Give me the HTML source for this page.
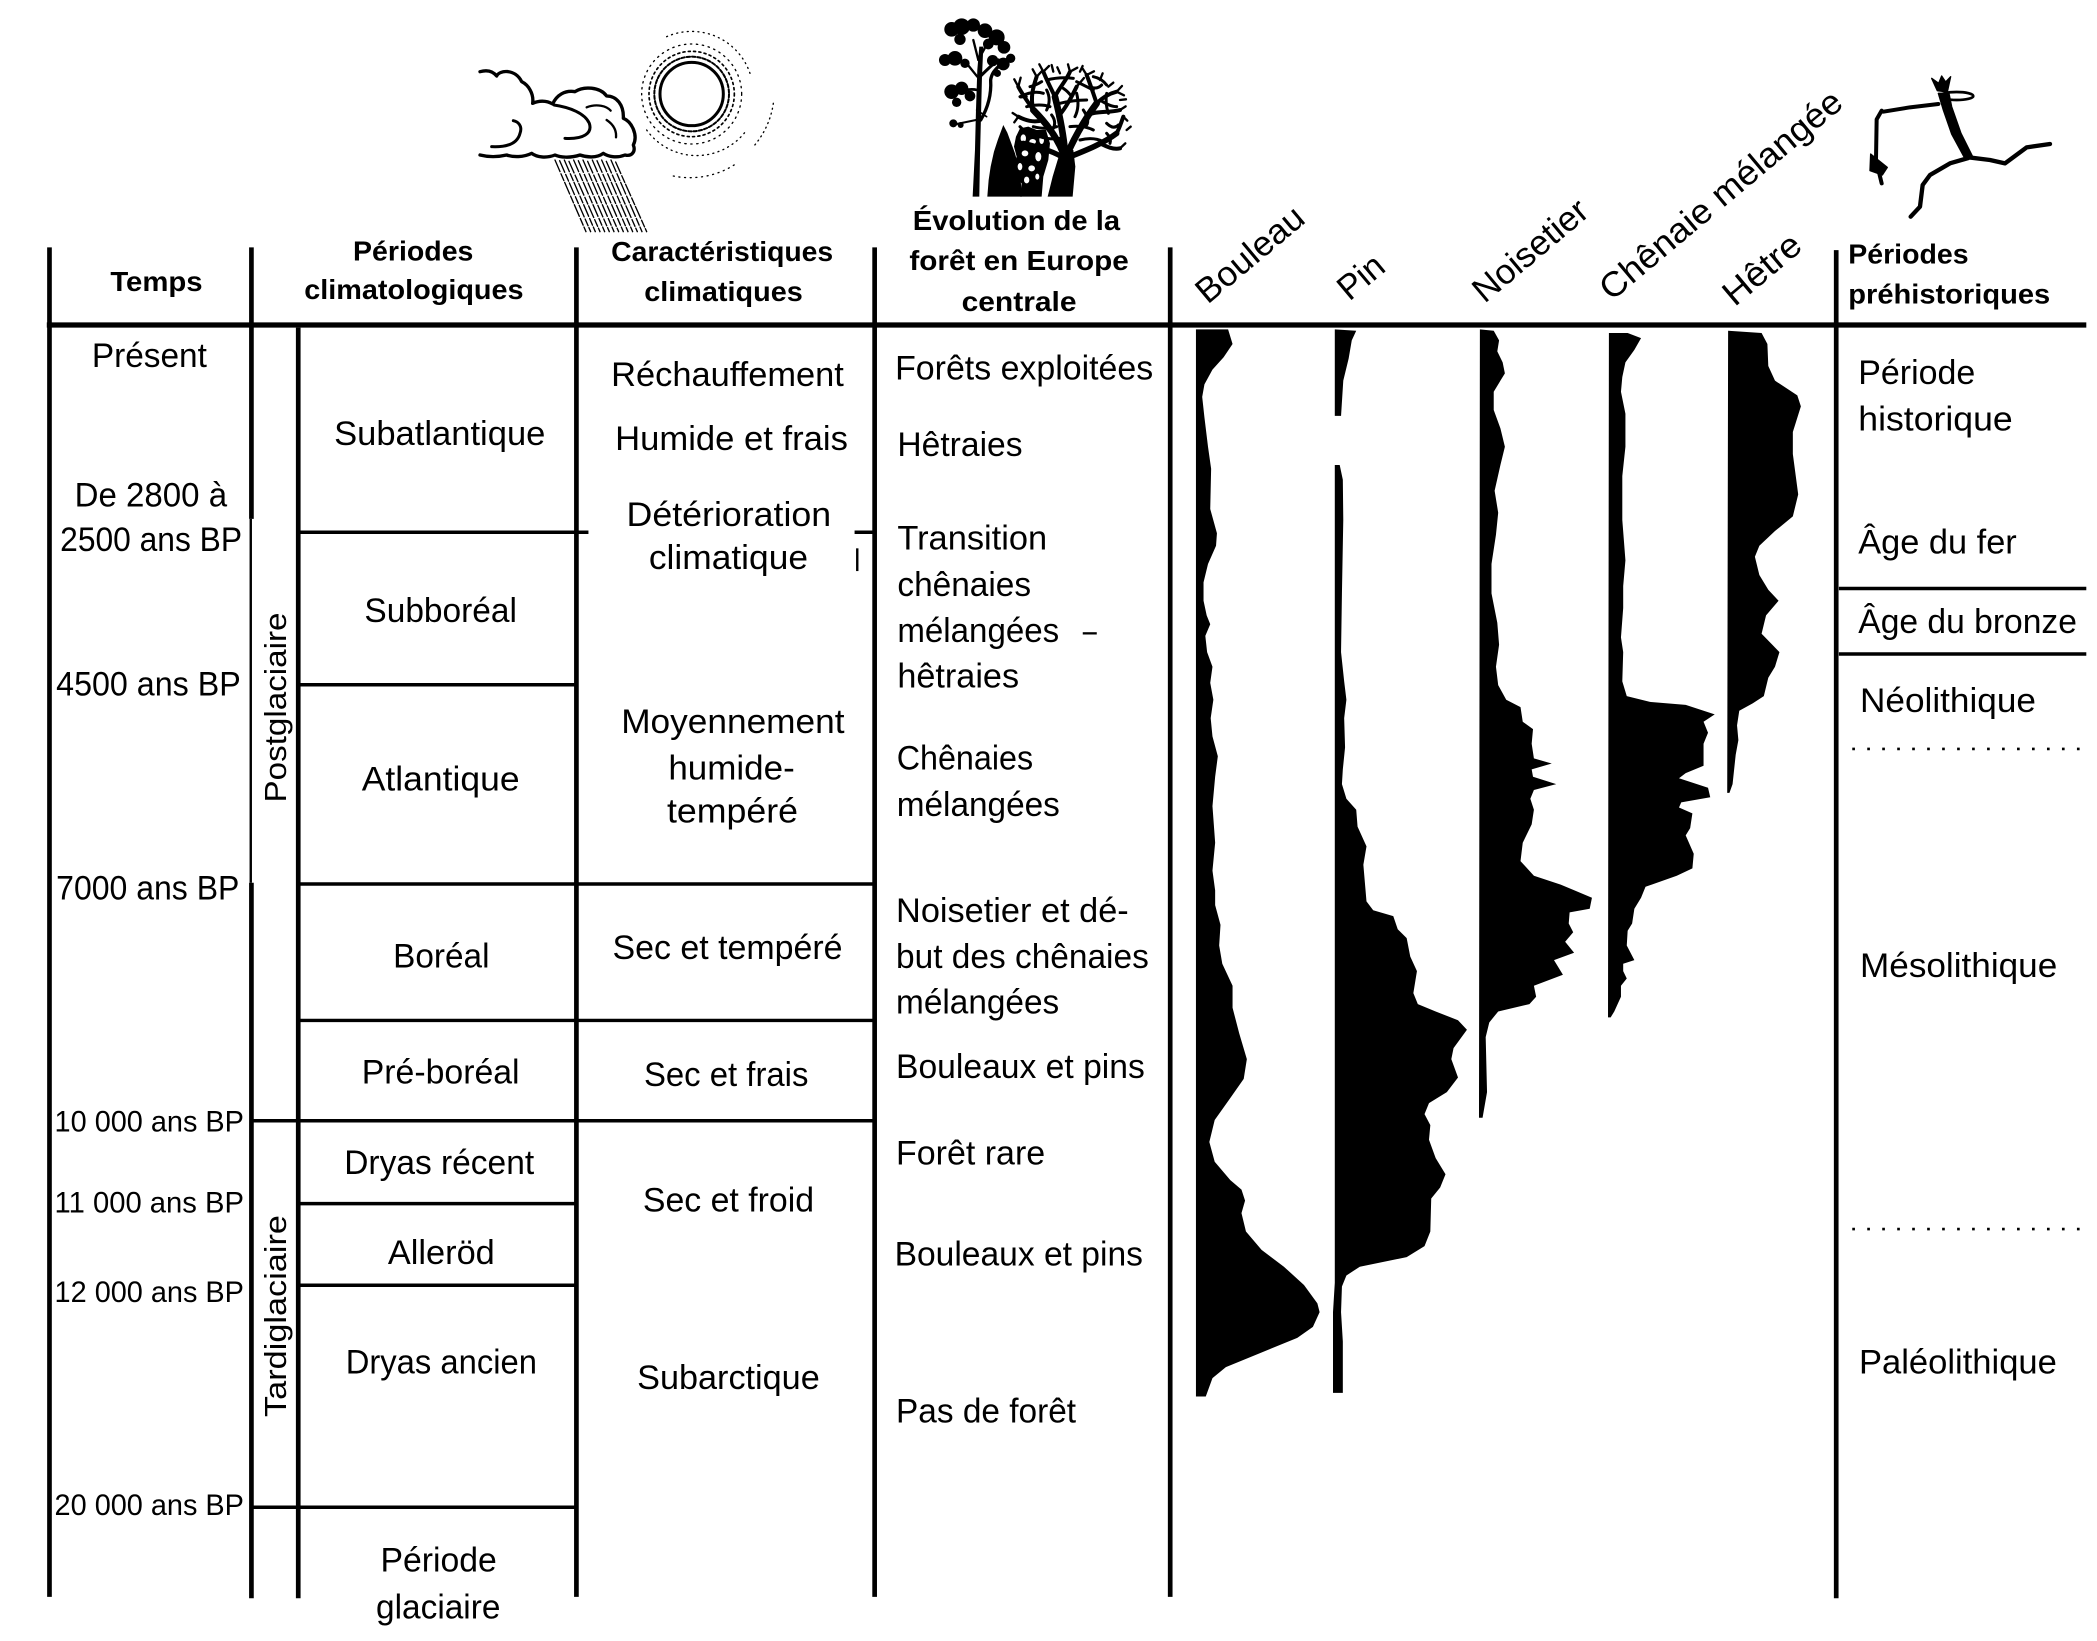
<!DOCTYPE html>
<html>
<head>
<meta charset="utf-8">
<style>
  html,body{margin:0;padding:0;background:#fff;}
  svg{display:block;}
  text{font-family:"Liberation Sans",Arial,sans-serif;fill:#000;}
  .b{font-size:25.5px;}
  .t{font-size:22px;}
  .h{font-size:20.5px;font-weight:bold;}
  .r{font-size:26px;}
  .v{font-size:23px;}
</style>
</head>
<body>
<svg width="2097" height="1641" viewBox="0 0 1568 1227" preserveAspectRatio="none" xmlns="http://www.w3.org/2000/svg">
<rect x="0" y="0" width="1568" height="1227" fill="#fff"/>

<!-- ===== Cloud + rain + sun ===== -->
<g transform="translate(343.95,14.955) scale(0.24925)" fill="none" stroke="#000" stroke-linecap="round" stroke-linejoin="round">
  <g stroke-width="4" stroke-dasharray="38 7 22 6">
    <line x1="285" y1="420" x2="378" y2="635"/>
    <line x1="299" y1="422" x2="392" y2="635"/>
    <line x1="313" y1="420" x2="406" y2="635"/>
    <line x1="327" y1="424" x2="420" y2="635"/>
    <line x1="341" y1="420" x2="434" y2="635"/>
    <line x1="355" y1="422" x2="448" y2="635"/>
    <line x1="369" y1="420" x2="462" y2="635"/>
    <line x1="383" y1="424" x2="476" y2="635"/>
    <line x1="397" y1="420" x2="490" y2="635"/>
    <line x1="411" y1="422" x2="504" y2="635"/>
    <line x1="425" y1="420" x2="518" y2="635"/>
    <line x1="439" y1="424" x2="532" y2="635"/>
    <line x1="453" y1="420" x2="546" y2="635"/>
    <line x1="467" y1="426" x2="560" y2="635"/>
  </g>
  <path d="M60,155 C85,148 100,155 110,168 C118,150 165,145 185,185 C205,195 222,220 218,250 C235,242 258,240 278,252 C290,225 315,210 345,215 C370,198 420,200 440,228 C470,228 492,255 490,295 C515,305 535,345 520,375 C528,395 515,410 495,405 C470,415 445,410 430,400 C410,415 380,412 360,405 C330,415 300,412 285,405 C260,415 230,412 215,400 C190,412 160,412 140,405 C110,412 80,410 60,405" fill="#fff" stroke-width="10"/>
  <path d="M95,380 C140,382 172,372 180,340 C188,318 175,305 160,302" stroke-width="9"/>
  <path d="M282,255 C330,262 375,280 388,310 C398,340 370,358 315,355" stroke-width="9"/>
  <path d="M380,262 C410,250 440,258 452,272" stroke-width="7"/>
  <path d="M440,300 C458,312 470,330 468,352" stroke-width="7"/>
  <circle cx="695" cy="222" r="95" stroke-width="9"/>
  <circle cx="695" cy="222" r="112" stroke-width="6" stroke-dasharray="10 6"/>
  <circle cx="695" cy="222" r="128" stroke-width="5" stroke-dasharray="6 10"/>
  <circle cx="695" cy="222" r="150" stroke-width="4" stroke-dasharray="4 14"/>
  <path d="M620,50 A185,185 0 0 1 870,160" stroke-width="4" stroke-dasharray="3 13"/>
  <path d="M560,330 A185,185 0 0 0 860,330" stroke-width="4" stroke-dasharray="3 13"/>
  <path d="M940,250 A250,250 0 0 1 880,380" stroke-width="4" stroke-dasharray="3 12"/>
  <path d="M640,468 A250,250 0 0 0 830,430" stroke-width="4" stroke-dasharray="3 14"/>
</g>

<!-- ===== Trees ===== -->
<g transform="translate(687.9,7.477) scale(0.24925)" fill="#000" stroke-linecap="round" stroke-linejoin="round">
  <!-- left tall tree -->
  <path d="M158,560 L165,420 L168,300 L172,180 L178,110 L190,110 L186,200 L183,320 L180,440 L178,560 Z"/>
  <g fill="none" stroke="#000">
    <path d="M182,330 C200,300 215,260 212,210 C215,190 225,180 235,170" stroke-width="10"/>
    <path d="M180,200 C200,180 215,165 235,150" stroke-width="9"/>
    <path d="M172,240 C150,235 130,240 110,250" stroke-width="8"/>
    <path d="M172,200 L140,160" stroke-width="7"/>
    <path d="M175,150 L160,90" stroke-width="7"/>
    <path d="M175,150 L205,95" stroke-width="7"/>
    <path d="M168,330 L110,342" stroke-width="6"/>
    <path d="M170,300 L200,320" stroke-width="5"/>
  </g>
  <circle cx="95" cy="58" r="22"/>
  <circle cx="125" cy="50" r="25"/>
  <circle cx="160" cy="45" r="20"/>
  <circle cx="195" cy="62" r="22"/>
  <circle cx="230" cy="82" r="24"/>
  <circle cx="252" cy="112" r="19"/>
  <circle cx="120" cy="88" r="17"/>
  <circle cx="205" cy="102" r="16"/>
  <circle cx="75" cy="150" r="18"/>
  <circle cx="105" cy="145" r="22"/>
  <circle cx="135" cy="160" r="14"/>
  <circle cx="218" cy="152" r="17"/>
  <circle cx="250" cy="162" r="19"/>
  <circle cx="272" cy="145" r="14"/>
  <circle cx="232" cy="190" r="11"/>
  <circle cx="95" cy="245" r="22"/>
  <circle cx="125" cy="235" r="20"/>
  <circle cx="150" cy="258" r="16"/>
  <circle cx="110" cy="277" r="14"/>
  <circle cx="100" cy="340" r="12"/>
  <circle cx="122" cy="345" r="9"/>
  <!-- conifer -->
  <path d="M250,345 L262,368 L272,395 L285,430 L296,470 L302,510 L306,560 L202,560 L206,510 L212,470 L222,425 L234,388 Z"/>
  <!-- middle tree (dark mass with small gaps) -->
  <path d="M300,560 L305,520 L285,500 L282,470 L290,440 L282,410 L288,380 L300,355 L325,350 L350,360 L378,360 L390,400 L385,450 L370,500 L365,560 Z"/>
  <g fill="#fff">
    <ellipse cx="310" cy="385" rx="8" ry="12"/>
    <ellipse cx="338" cy="395" rx="10" ry="8"/>
    <ellipse cx="365" cy="390" rx="7" ry="12"/>
    <ellipse cx="315" cy="430" rx="10" ry="9"/>
    <ellipse cx="355" cy="440" rx="9" ry="14"/>
    <ellipse cx="300" cy="470" rx="7" ry="11"/>
    <ellipse cx="335" cy="475" rx="10" ry="9"/>
    <ellipse cx="320" cy="510" rx="8" ry="10"/>
    <ellipse cx="352" cy="500" rx="6" ry="9"/>
  </g>
  <!-- right tree -->
  <path d="M383,560 L398,500 L413,450 L423,420 L460,420 L466,470 L458,560 Z"/>
  <g fill="none" stroke="#000">
    <path d="M430,430 C410,380 380,340 340,300" stroke-width="20"/>
    <path d="M435,425 C430,370 420,320 405,260" stroke-width="20"/>
    <path d="M445,425 C470,370 500,320 530,280" stroke-width="20"/>
    <path d="M450,440 C500,420 550,400 590,370" stroke-width="17"/>
    <path d="M425,440 C390,420 350,410 310,400" stroke-width="16"/>
    <g stroke-width="12">
      <path d="M340,300 C320,270 305,250 295,230"/>
      <path d="M340,300 C330,260 340,230 350,200"/>
      <path d="M370,330 C340,340 315,330 295,320"/>
      <path d="M405,260 C390,230 380,210 370,185"/>
      <path d="M405,260 C420,230 440,210 450,185"/>
      <path d="M415,320 C440,290 455,260 470,230"/>
      <path d="M530,280 C520,250 510,220 500,195"/>
      <path d="M530,280 C550,260 570,250 590,245"/>
      <path d="M500,320 C520,300 560,310 600,300"/>
      <path d="M590,370 C600,350 605,335 610,320"/>
      <path d="M540,400 C560,410 580,420 600,415"/>
    </g>
    <g stroke-width="7">
      <path d="M295,230 L283,208"/><path d="M295,230 L302,203"/>
      <path d="M350,200 L338,178"/><path d="M350,200 L366,183"/>
      <path d="M370,185 L358,163"/><path d="M370,185 L387,168"/>
      <path d="M450,185 L444,163"/><path d="M450,185 L472,173"/>
      <path d="M470,230 L492,204"/><path d="M500,195 L488,176"/>
      <path d="M500,195 L522,184"/><path d="M590,245 L606,228"/>
      <path d="M590,245 L612,256"/><path d="M600,300 L617,289"/>
      <path d="M610,320 L622,332"/><path d="M600,415 L616,400"/>
      <path d="M295,320 L278,309"/><path d="M295,320 L283,337"/>
      <path d="M310,400 L293,389"/><path d="M310,400 L298,421"/>
      <path d="M420,190 L412,172"/><path d="M540,210 L548,190"/>
      <path d="M565,230 L580,218"/><path d="M320,260 L302,262"/>
      <path d="M400,185 L395,165"/><path d="M480,185 L488,168"/>
      <path d="M620,360 L632,350"/><path d="M600,270 L618,268"/>
    </g>
    <g stroke-width="9">
      <path d="M300,260 Q340,240 370,250"/>
      <path d="M380,210 Q420,200 460,205"/>
      <path d="M470,215 Q500,230 520,240"/>
      <path d="M320,290 Q360,280 390,290"/>
      <path d="M420,280 Q460,270 500,270"/>
      <path d="M540,270 Q570,290 590,290"/>
      <path d="M340,350 Q380,360 410,350"/>
      <path d="M450,350 Q490,345 520,360"/>
      <path d="M560,340 Q580,360 595,345"/>
      <path d="M360,380 Q390,390 420,385"/>
      <path d="M480,390 Q520,380 550,395"/>
      <path d="M300,350 Q320,370 340,380"/>
      <path d="M380,240 Q395,270 380,300"/>
      <path d="M470,250 Q480,290 465,320"/>
      <path d="M560,250 Q555,280 565,310"/>
      <path d="M510,230 Q530,240 545,225"/>
      <path d="M330,230 Q350,225 365,215"/>
      <path d="M430,235 Q445,245 455,260"/>
      <path d="M490,300 Q510,330 500,345"/>
      <path d="M560,370 Q575,385 570,400"/>
      <path d="M395,315 Q410,335 400,355"/>
      <path d="M520,200 Q545,205 560,225"/>
    </g>
  </g>
</g>

<!-- ===== Prehistoric figure ===== -->
<g transform="translate(1383.3,44.86) scale(0.24925)" stroke="#000" fill="none" stroke-linecap="round" stroke-linejoin="round">
  <path d="M245,55 L262,92 L292,96 L302,50 L287,66 L275,48 L266,70 Z" fill="#000" stroke-width="4"/>
  <ellipse cx="320" cy="108" rx="50" ry="12" stroke-width="8"/>
  <path d="M265,100 L297,100 L305,140 L333,220 L368,290 L345,296 L305,222 L280,150 Z" fill="#000" stroke-width="4"/>
  <path d="M265,132 L180,142 L100,155" stroke-width="12"/>
  <path d="M95,152 L80,178 L78,300 L95,370" stroke-width="12"/>
  <path d="M62,282 L112,322 L97,345 L60,332 Z" fill="#000" stroke-width="4"/>
  <path d="M355,292 L420,300 L465,310 L530,262 L600,252" stroke-width="13"/>
  <path d="M355,294 L300,310 L240,345 L218,375 L210,440 L182,470" stroke-width="13"/>
</g>

<!-- ===== Grid lines ===== -->
<g stroke="#000" fill="none">
  <g stroke-width="3.5">
    <path d="M37,185 V1194"/>
    <path d="M188,185 V388"/>
    <path d="M188,660 V1195"/>
    <path d="M223,245 V1195"/>
    <path d="M431,185 V1194"/>
    <path d="M654,185 V1194"/>
    <path d="M875,185 V1194"/>
    <path d="M1373,187 V1195"/>
  </g>
  <path d="M187.5,388 V660" stroke-width="1.8"/>
  <path d="M35,243 H1560" stroke-width="4"/>
  <g stroke-width="2.6">
    <path d="M223,398 H440"/>
    <path d="M639,398 H654"/>
    <path d="M223,512 H431"/>
    <path d="M223,661 H654"/>
    <path d="M223,763 H654"/>
    <path d="M188,838 H654"/>
    <path d="M223,900 H431"/>
    <path d="M223,961 H431"/>
    <path d="M188,1127 H431"/>
    <path d="M1375,440 H1560"/>
    <path d="M1375,489 H1560"/>
  </g>
  <path d="M641,410 V427" stroke-width="1.8"/>
  <path d="M1385,560 H1556" stroke-width="2" stroke-dasharray="2 9.2"/>
  <path d="M1385,919 H1556" stroke-width="2" stroke-dasharray="2 9.2"/>
</g>

<!-- ===== Pollen curves ===== -->
<g transform="translate(859.87,224.32) scale(0.33382,0.54841)" fill="#000">
  <path d="M103,40 L175,40 L185,60 L165,78 L140,95 L122,115 L117,132 L122,160 L130,200 L137,230 L135,285 L150,318 L148,335 L130,360 L120,385 L120,410 L127,430 L135,442 L124,458 L128,480 L140,500 L135,522 L142,545 L136,570 L140,595 L152,622 L146,650 L140,690 L146,740 L140,778 L146,805 L146,825 L158,852 L155,880 L162,905 L185,935 L185,965 L200,1000 L217,1035 L210,1062 L180,1088 L145,1118 L133,1148 L145,1175 L180,1200 L205,1213 L213,1228 L205,1245 L215,1270 L250,1295 L300,1318 L345,1343 L375,1368 L380,1380 L365,1400 L330,1415 L250,1435 L170,1455 L140,1470 L125,1495 L103,1495 Z"/>
  <path d="M414,40 L462,42 L452,55 L445,80 L433,110 L428,158 L414,158 Z"/>
  <path d="M414,225 L425,225 L432,245 L433,300 L430,400 L428,480 L435,520 L440,545 L435,570 L437,610 L432,640 L430,660 L440,680 L462,695 L465,718 L485,745 L478,770 L485,820 L500,832 L545,840 L555,858 L575,870 L583,895 L598,915 L590,945 L600,960 L640,970 L690,982 L710,995 L680,1020 L675,1035 L690,1060 L665,1080 L625,1095 L615,1110 L628,1125 L625,1145 L640,1170 L662,1192 L650,1210 L630,1225 L628,1270 L615,1290 L575,1305 L470,1318 L440,1330 L430,1345 L428,1380 L432,1420 L432,1490 L410,1490 L410,1380 L414,1340 Z"/>
  <path d="M739,40 L770,42 L782,55 L778,70 L790,85 L795,100 L785,110 L770,125 L770,150 L785,175 L795,200 L785,225 L772,260 L780,290 L775,320 L765,360 L765,400 L778,440 L782,470 L775,500 L780,525 L798,545 L830,555 L835,575 L858,585 L855,605 L860,625 L900,632 L855,640 L858,650 L910,660 L860,668 L852,680 L860,695 L855,715 L835,740 L830,765 L860,785 L920,797 L990,815 L985,830 L940,835 L938,850 L948,862 L930,875 L950,890 L905,900 L925,920 L860,935 L865,950 L850,960 L780,970 L760,985 L752,1005 L755,1080 L745,1115 L737,1115 Z"/>
  <path d="M1028,45 L1070,45 L1100,52 L1085,68 L1065,85 L1058,105 L1055,125 L1065,155 L1065,200 L1058,240 L1058,300 L1065,355 L1060,390 L1060,420 L1055,460 L1060,480 L1058,520 L1068,540 L1120,548 L1200,552 L1265,565 L1240,575 L1250,590 L1240,605 L1240,635 L1200,645 L1185,652 L1250,665 L1255,678 L1190,685 L1185,692 L1215,700 L1210,720 L1200,730 L1218,755 L1215,775 L1180,785 L1110,800 L1100,815 L1085,830 L1080,850 L1070,860 L1068,880 L1085,900 L1060,905 L1060,915 L1068,925 L1055,935 L1055,950 L1040,970 L1032,978 L1026,978 Z"/>
  <path d="M1295,42 L1370,45 L1383,60 L1385,90 L1400,110 L1450,130 L1458,145 L1440,180 L1440,210 L1452,265 L1440,295 L1400,315 L1365,335 L1355,350 L1365,375 L1385,395 L1408,410 L1380,430 L1370,455 L1410,480 L1400,500 L1385,515 L1375,540 L1350,550 L1320,560 L1315,580 L1318,600 L1312,620 L1305,660 L1298,672 L1293,672 Z"/>
</g>

<!-- ===== Header text ===== -->
<text class="h" x="117" y="217.6" text-anchor="middle" textLength="69" lengthAdjust="spacingAndGlyphs">Temps</text>
<text class="h" x="309" y="194.6" text-anchor="middle" textLength="90" lengthAdjust="spacingAndGlyphs">Périodes</text>
<text class="h" x="309.5" y="223.6" text-anchor="middle" textLength="164" lengthAdjust="spacingAndGlyphs">climatologiques</text>
<text class="h" x="540" y="195" text-anchor="middle" textLength="166" lengthAdjust="spacingAndGlyphs">Caractéristiques</text>
<text class="h" x="541" y="225" text-anchor="middle" textLength="118.5" lengthAdjust="spacingAndGlyphs">climatiques</text>
<text class="h" x="760" y="172" text-anchor="middle" textLength="155" lengthAdjust="spacingAndGlyphs">Évolution de la</text>
<text class="h" x="762" y="202" text-anchor="middle" textLength="164" lengthAdjust="spacingAndGlyphs">forêt en Europe</text>
<text class="h" x="762" y="232.7" text-anchor="middle" textLength="86" lengthAdjust="spacingAndGlyphs">centrale</text>
<text class="h" x="1382" y="197" textLength="90" lengthAdjust="spacingAndGlyphs">Périodes</text>
<text class="h" x="1382" y="227" textLength="151" lengthAdjust="spacingAndGlyphs">préhistoriques</text>

<text class="r" transform="translate(903,228) rotate(-40)" textLength="97" lengthAdjust="spacingAndGlyphs">Bouleau</text>
<text class="r" transform="translate(1009,225.6) rotate(-40)" textLength="37" lengthAdjust="spacingAndGlyphs">Pin</text>
<text class="r" transform="translate(1110,227.3) rotate(-40)" textLength="104" lengthAdjust="spacingAndGlyphs">Noisetier</text>
<text class="r" transform="translate(1205,225.6) rotate(-40)" textLength="228" lengthAdjust="spacingAndGlyphs">Chênaie mélangée</text>
<text class="r" transform="translate(1297,229.8) rotate(-40)" textLength="68" lengthAdjust="spacingAndGlyphs">Hêtre</text>

<!-- ===== Temps column ===== -->
<text class="b" x="68.7" y="274.6" textLength="86" lengthAdjust="spacingAndGlyphs">Présent</text>
<text class="b" x="55.8" y="378.6" textLength="114" lengthAdjust="spacingAndGlyphs">De 2800 à</text>
<text class="b" x="45" y="412" textLength="136" lengthAdjust="spacingAndGlyphs">2500 ans BP</text>
<text class="b" x="42" y="520" textLength="138" lengthAdjust="spacingAndGlyphs">4500 ans BP</text>
<text class="b" x="42" y="672.6" textLength="137" lengthAdjust="spacingAndGlyphs">7000 ans BP</text>
<text class="t" x="40.8" y="846" textLength="141.6" lengthAdjust="spacingAndGlyphs">10 000 ans BP</text>
<text class="t" x="40.8" y="906.5" textLength="141.6" lengthAdjust="spacingAndGlyphs">11 000 ans BP</text>
<text class="t" x="40.8" y="973.6" textLength="141.6" lengthAdjust="spacingAndGlyphs">12 000 ans BP</text>
<text class="t" x="40.8" y="1132.7" textLength="141.6" lengthAdjust="spacingAndGlyphs">20 000 ans BP</text>

<text class="v" transform="translate(214,529) rotate(-90)" text-anchor="middle" textLength="142" lengthAdjust="spacingAndGlyphs">Postglaciaire</text>
<text class="v" transform="translate(214,984) rotate(-90)" text-anchor="middle" textLength="151" lengthAdjust="spacingAndGlyphs">Tardiglaciaire</text>

<!-- ===== Periods column ===== -->
<text class="b" x="328.8" y="332.7" text-anchor="middle" textLength="158" lengthAdjust="spacingAndGlyphs">Subatlantique</text>
<text class="b" x="329.5" y="465" text-anchor="middle" textLength="114" lengthAdjust="spacingAndGlyphs">Subboréal</text>
<text class="b" x="329.5" y="591" text-anchor="middle" textLength="118" lengthAdjust="spacingAndGlyphs">Atlantique</text>
<text class="b" x="330" y="723.6" text-anchor="middle" textLength="72" lengthAdjust="spacingAndGlyphs">Boréal</text>
<text class="b" x="329.5" y="810" text-anchor="middle" textLength="118" lengthAdjust="spacingAndGlyphs">Pré-boréal</text>
<text class="b" x="328.4" y="878" text-anchor="middle" textLength="142" lengthAdjust="spacingAndGlyphs">Dryas récent</text>
<text class="b" x="330" y="945" text-anchor="middle" textLength="80" lengthAdjust="spacingAndGlyphs">Alleröd</text>
<text class="b" x="330" y="1027" text-anchor="middle" textLength="143" lengthAdjust="spacingAndGlyphs">Dryas ancien</text>
<text class="b" x="328" y="1175" text-anchor="middle" textLength="87" lengthAdjust="spacingAndGlyphs">Période</text>
<text class="b" x="327.7" y="1210" text-anchor="middle" textLength="93" lengthAdjust="spacingAndGlyphs">glaciaire</text>

<!-- ===== Caractéristiques column ===== -->
<text class="b" x="544" y="288.6" text-anchor="middle" textLength="174" lengthAdjust="spacingAndGlyphs">Réchauffement</text>
<text class="b" x="547" y="336.5" text-anchor="middle" textLength="174" lengthAdjust="spacingAndGlyphs">Humide et frais</text>
<text class="b" x="545" y="393.4" text-anchor="middle" textLength="153" lengthAdjust="spacingAndGlyphs">Détérioration</text>
<text class="b" x="544.7" y="425.6" text-anchor="middle" textLength="119" lengthAdjust="spacingAndGlyphs">climatique</text>
<text class="b" x="548" y="548" text-anchor="middle" textLength="167" lengthAdjust="spacingAndGlyphs">Moyennement</text>
<text class="b" x="547" y="583" text-anchor="middle" textLength="94.5" lengthAdjust="spacingAndGlyphs">humide-</text>
<text class="b" x="547.7" y="615" text-anchor="middle" textLength="98" lengthAdjust="spacingAndGlyphs">tempéré</text>
<text class="b" x="544" y="717" text-anchor="middle" textLength="172" lengthAdjust="spacingAndGlyphs">Sec et tempéré</text>
<text class="b" x="543" y="812" text-anchor="middle" textLength="123" lengthAdjust="spacingAndGlyphs">Sec et frais</text>
<text class="b" x="544.7" y="906" text-anchor="middle" textLength="128" lengthAdjust="spacingAndGlyphs">Sec et froid</text>
<text class="b" x="544.7" y="1038.6" text-anchor="middle" textLength="136.5" lengthAdjust="spacingAndGlyphs">Subarctique</text>

<!-- ===== Forest column ===== -->
<text class="b" x="669.3" y="283.7" textLength="193" lengthAdjust="spacingAndGlyphs">Forêts exploitées</text>
<text class="b" x="671" y="341" textLength="93.6" lengthAdjust="spacingAndGlyphs">Hêtraies</text>
<text class="b" x="671" y="411" textLength="112" lengthAdjust="spacingAndGlyphs">Transition</text>
<text class="b" x="671" y="445.6" textLength="100" lengthAdjust="spacingAndGlyphs">chênaies</text>
<text class="b" x="671" y="480" textLength="121" lengthAdjust="spacingAndGlyphs">mélangées</text>
<text class="b" x="809.6" y="480" textLength="10.5" lengthAdjust="spacingAndGlyphs">–</text>
<text class="b" x="671" y="514" textLength="91" lengthAdjust="spacingAndGlyphs">hêtraies</text>
<text class="b" x="670.5" y="575.4" textLength="102" lengthAdjust="spacingAndGlyphs">Chênaies</text>
<text class="b" x="670.5" y="610" textLength="122" lengthAdjust="spacingAndGlyphs">mélangées</text>
<text class="b" x="670" y="689.4" textLength="174" lengthAdjust="spacingAndGlyphs">Noisetier et dé-</text>
<text class="b" x="670" y="723.8" textLength="189" lengthAdjust="spacingAndGlyphs">but des chênaies</text>
<text class="b" x="670" y="758" textLength="122" lengthAdjust="spacingAndGlyphs">mélangées</text>
<text class="b" x="670" y="806" textLength="186" lengthAdjust="spacingAndGlyphs">Bouleaux et pins</text>
<text class="b" x="670" y="870.7" textLength="111.5" lengthAdjust="spacingAndGlyphs">Forêt rare</text>
<text class="b" x="668.9" y="946.2" textLength="185.7" lengthAdjust="spacingAndGlyphs">Bouleaux et pins</text>
<text class="b" x="670" y="1063.6" textLength="134.6" lengthAdjust="spacingAndGlyphs">Pas de forêt</text>

<!-- ===== Prehistoric periods column ===== -->
<text class="b" x="1389.5" y="287" textLength="87.5" lengthAdjust="spacingAndGlyphs">Période</text>
<text class="b" x="1389.5" y="322" textLength="115.5" lengthAdjust="spacingAndGlyphs">historique</text>
<text class="b" x="1389.5" y="414" textLength="118.5" lengthAdjust="spacingAndGlyphs">Âge du fer</text>
<text class="b" x="1389.5" y="473.3" textLength="163.5" lengthAdjust="spacingAndGlyphs">Âge du bronze</text>
<text class="b" x="1390.8" y="532.5" textLength="131.6" lengthAdjust="spacingAndGlyphs">Néolithique</text>
<text class="b" x="1390.8" y="730.4" textLength="147.5" lengthAdjust="spacingAndGlyphs">Mésolithique</text>
<text class="b" x="1390" y="1027" textLength="148" lengthAdjust="spacingAndGlyphs">Paléolithique</text>
</svg>
</body>
</html>
